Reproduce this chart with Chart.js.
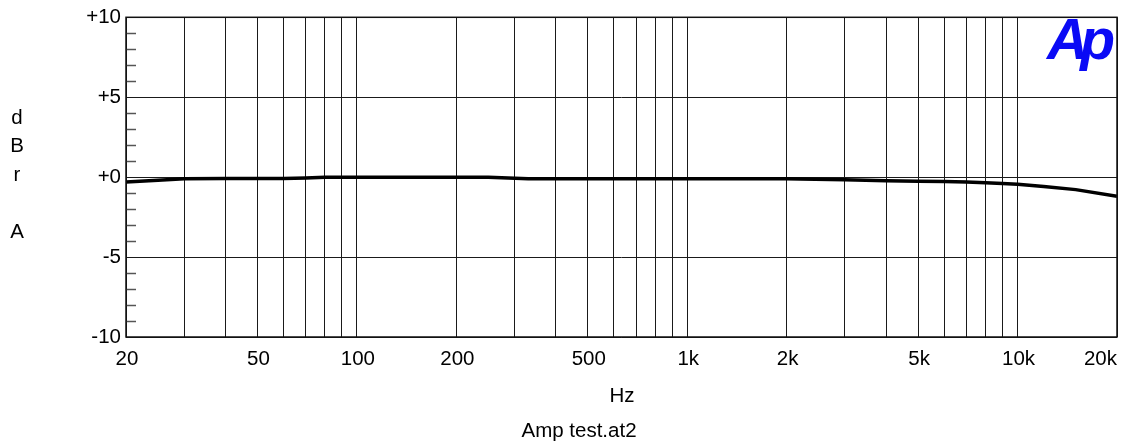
<!DOCTYPE html>
<html>
<head>
<meta charset="utf-8">
<script src="https://cdn.jsdelivr.net/npm/chart.js@4"></script>
<style>
  html, body { margin: 0; padding: 0; background: #fff; }
  #wrap { width: 1121px; height: 444px; position: relative; }
</style>
</head>
<body>
<div id="wrap"><canvas id="chart"></canvas></div>
<script>
// frequency response
const freqs = [20, 25, 30, 40, 50, 60, 70, 80, 100, 150, 200, 250, 330, 500, 700, 1000, 1500, 2000, 2200, 3000, 4000, 5000, 6000, 7000, 8000, 9000, 10000, 12000, 15000, 20000];
const levels = [-0.3, -0.2, -0.1, -0.08, -0.08, -0.08, -0.05, 0, 0, 0, 0, 0, -0.1, -0.1, -0.1, -0.1, -0.1, -0.1, -0.12, -0.17, -0.22, -0.25, -0.27, -0.31, -0.35, -0.39, -0.45, -0.58, -0.78, -1.2];

// vertical grid lines and the labelled ones
const gridFreqs = [20, 30, 40, 50, 60, 70, 80, 90, 100, 200, 300, 400, 500, 600, 700, 800, 900, 1000, 2000, 3000, 4000, 5000, 6000, 7000, 8000, 9000, 10000, 20000];
const labelFreqs = [20, 50, 100, 200, 500, 1000, 2000, 5000, 10000, 20000];
const labelTexts = ["20", "50", "100", "200", "500", "1k", "2k", "5k", "10k", "20k"];

const yTitle = ["d", "B", "r", "", "A"];

const FONT = "Liberation Sans, Arial, sans-serif";
const FSIZE = 20.5;

const extras = {
  id: "extras",
  afterDraw(chart) {
    const ctx = chart.ctx;
    const area = chart.chartArea;
    const xs = chart.scales.x;
    const ys = chart.scales.y;
    ctx.save();

    // minor ticks on the left edge
    ctx.strokeStyle = "#555";
    ctx.lineWidth = 1.5;
    for (let v = ys.min; v <= ys.max; v++) {
      if (v % 5 === 0) continue;
      const py = Math.round(ys.getPixelForValue(v)) + 0.5;
      ctx.beginPath();
      ctx.moveTo(area.left, py);
      ctx.lineTo(area.left + 10, py);
      ctx.stroke();
    }

    // frame
    ctx.strokeStyle = "#111";
    ctx.lineWidth = 1.5;
    ctx.strokeRect(area.left, area.top, area.right - area.left, area.bottom - area.top);

    // x labels
    ctx.fillStyle = "#000";
    ctx.font = FSIZE + "px " + FONT;
    ctx.textBaseline = "middle";
    labelFreqs.forEach((f, i) => {
      const px = xs.getPixelForValue(f);
      const last = i === labelFreqs.length - 1;
      ctx.textAlign = last ? "right" : "center";
      ctx.fillText(labelTexts[i], last ? px : px + 1, 359);
    });

    // axis titles
    ctx.textAlign = "center";
    ctx.fillText("Hz", 622, 396);
    ctx.fillText("Amp test.at2", 579, 431);
    yTitle.forEach((t, i) => ctx.fillText(t, 17, 118 + i * 28.7));

    // logo
    ctx.fillStyle = "#0a0af5";
    ctx.font = "bold italic 57px " + FONT;
    ctx.textAlign = "left";
    ctx.textBaseline = "alphabetic";
    ctx.letterSpacing = "-8px";
    ctx.fillText("Ap", 1047, 59);
    ctx.restore();
  },
};

const ctx = document.getElementById("chart").getContext("2d");
new Chart(ctx, {
  type: "scatter",
  data: {
    datasets: [
      {
        data: freqs.map((f, i) => ({ x: f, y: levels[i] })),
        showLine: true,
        borderColor: "#000",
        borderWidth: 3.5,
        pointRadius: 0,
        tension: 0,
      },
    ],
  },
  options: {
    responsive: true,
    maintainAspectRatio: false,
    animation: false,
    layout: { padding: { left: 0, right: 4, top: 14, bottom: 0 } },
    plugins: { legend: { display: false }, tooltip: { enabled: false } },
    scales: {
      x: {
        type: "logarithmic",
        min: 20,
        max: 20000,
        afterBuildTicks: (s) => {
          s.ticks = gridFreqs.map((v) => ({ value: v }));
        },
        afterFit: (s) => {
          s.height = 107;
        },
        ticks: { display: false },
        grid: { color: "#1a1a1a", lineWidth: 1, tickLength: 0 },
        border: { display: false },
      },
      y: {
        min: -10,
        max: 10,
        afterFit: (s) => {
          s.width = 126;
        },
        ticks: {
          stepSize: 5,
          padding: 5,
          color: "#000",
          font: { family: FONT, size: FSIZE },
          callback: (v) => (v >= 0 ? "+" + v : "" + v),
        },
        grid: { color: "#1a1a1a", lineWidth: 1, tickLength: 0 },
        border: { display: false },
      },
    },
  },
  plugins: [extras],
});
</script>
</body>
</html>
